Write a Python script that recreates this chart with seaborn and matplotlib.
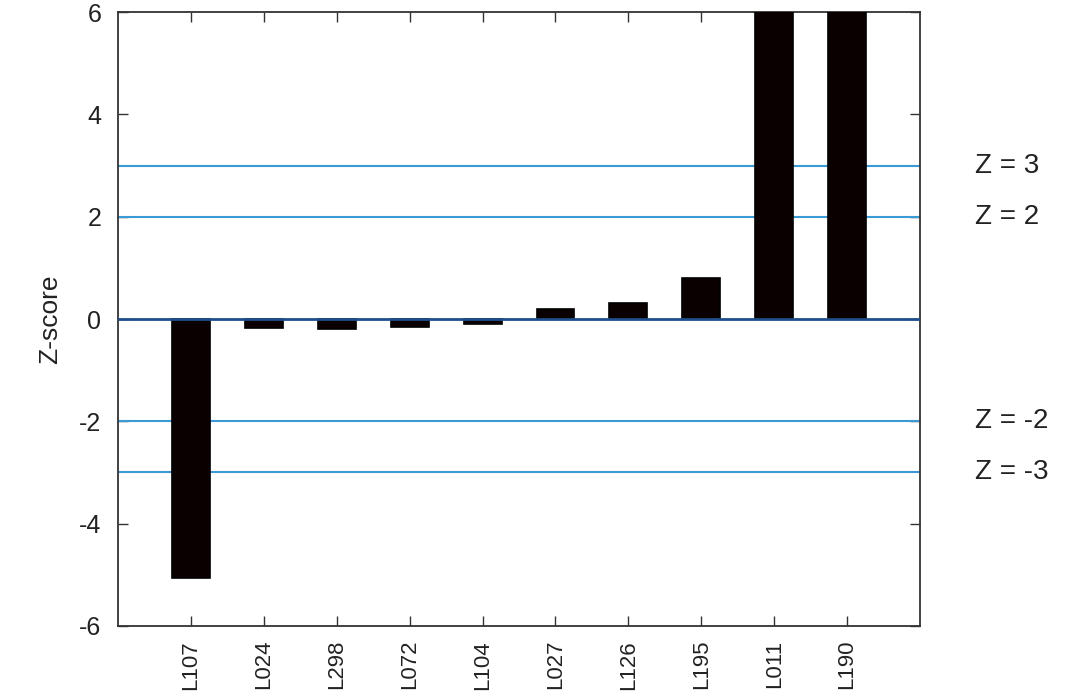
import matplotlib
matplotlib.use("Agg")
import matplotlib.pyplot as plt
import matplotlib.transforms as mtransforms
import seaborn as sns
import pandas as pd

labels = ["L107", "L024", "L298", "L072", "L104", "L027", "L126", "L195", "L011", "L190"]
zscores = [-5.06, -0.18, -0.19, -0.15, -0.10, 0.19, 0.32, 0.80, 7.5, 7.5]
thresholds = [3, 2, -2, -3]
threshold_labels = ["Z = 3", "Z = 2", "Z = -2", "Z = -3"]
yticks = [-6, -4, -2, 0, 2, 4, 6]

sns.set_style("white")
plt.rcParams['font.family'] = ['Liberation Sans', 'DejaVu Sans']

df = pd.DataFrame({"label": labels, "z": zscores})

fig = plt.figure(figsize=(10.7, 6.95), dpi=100)
ax = fig.add_axes([0.1103, 0.0993, 0.7495, 0.8834])

sns.barplot(data=df, x="label", y="z", order=labels, color="#0a0000",
            edgecolor="black", linewidth=1.2, width=0.52, saturation=1, ax=ax, zorder=3)

for t in thresholds:
    ax.axhline(t, color="#3a9ad6", lw=1.5, zorder=2)
ax.axhline(0, color="#1f4f8a", lw=2.0, zorder=4)

trans = mtransforms.blended_transform_factory(ax.transAxes, ax.transData)
for t, s in zip(thresholds, threshold_labels):
    ax.text(1.069, t, s, transform=trans, fontsize=20, va="center", ha="left", color="#222222")

ax.set_xlim(-1, 10)
ax.set_ylim(-6, 6)
ax.set_yticks(yticks)
ax.set_yticklabels([str(v) for v in yticks])
ax.set_xlabel("")
ax.set_ylabel("Z-score", fontsize=19, color="#222222", labelpad=12)

for side in ["top", "right", "left", "bottom"]:
    ax.spines[side].set_visible(True)
    ax.spines[side].set_color("#333333")
    ax.spines[side].set_linewidth(1.3)

ax.tick_params(axis="both", direction="in", length=7, width=1, color="#333333",
               top=True, right=True, bottom=True, left=True, labelcolor="#222222")
ax.tick_params(axis="y", labelsize=18, pad=12)
ax.tick_params(axis="x", labelsize=16, pad=10, labelrotation=90)

fig.savefig("out.png", dpi=100)
